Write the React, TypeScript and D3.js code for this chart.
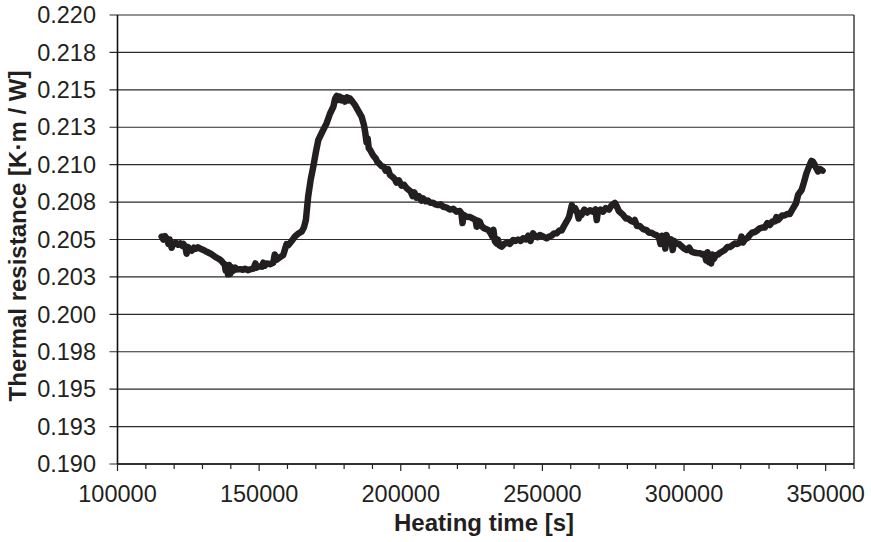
import React from "react";
import * as d3 from "d3";

const timeS: number[] = [
  115600, 116200, 116800, 117400, 118000, 118400, 119100, 119600, 120600, 121400,
  122100, 122800, 123300, 124000, 124400, 124800, 125400, 126200, 127000, 127600,
  128400, 129100, 130300, 131500, 132900, 134400, 135800, 136500, 137200, 137800,
  138200, 138600, 139000, 139400, 139800, 140300, 140800, 141500, 142000, 143200,
  144200, 145000, 146000, 146800, 148000, 148700, 149100, 150300, 151000, 151500,
  152000, 152600, 153800, 155000, 155500, 156200, 157300, 158500, 159200, 159700,
  160300, 161500, 162600, 163800, 165000, 165800, 166500, 167300, 168200, 169100,
  170000, 170900, 172300, 173800, 175000, 176200, 176800, 177400, 177900, 178500,
  179100, 179700, 180300, 181000, 181600, 182000, 183000, 183800, 185000, 186200,
  187000, 187500, 187900, 188300, 188700, 189200, 190300, 191200, 191700, 192500,
  193200, 194000, 194700, 195500, 196200, 197300, 198000, 198500, 199300, 200300,
  201200, 202100, 203500, 204200, 204800, 205500, 206400, 207300, 207900, 208800,
  209600, 210500, 211400, 212300, 213200, 214000, 215000, 216000, 217300, 218500,
  219700, 220800, 221400, 221800, 222200, 223200, 224500, 225500, 226400, 226800,
  227200, 227900, 228500, 229400, 230900, 231800, 232300, 232700, 233200, 233800,
  234300, 234800, 235600, 236500, 237600, 238500, 239700, 240500, 241400, 242300,
  243200, 244200, 245000, 245800, 246700, 247500, 248300, 249100, 250300, 251500,
  252400, 253200, 254100, 255000, 256000, 256800, 257600, 258500, 259400, 259900,
  260400, 260900, 261500, 262300, 262800, 263300, 263800, 264800, 265800, 266800,
  267900, 268700, 269200, 269600, 270500, 271400, 272400, 273500, 274500, 275600,
  276300, 277000, 278500, 279500, 280200, 281200, 282000, 282600, 283400, 284400,
  285500, 286800, 287600, 288500, 289400, 290300, 291200, 291700, 292200, 293000,
  293400, 293800, 294700, 295500, 296000, 296500, 297300, 298200, 299100, 300000,
  300900, 301800, 302600, 303200, 304400, 305600, 306500, 307300, 307800, 308300,
  308800, 309100, 309600, 310000, 310500, 311200, 312000, 312600, 313500, 314400,
  315300, 316200, 317000, 317900, 318800, 319700, 320300, 320800, 321500, 322400,
  323200, 324000, 325000, 325800, 326700, 327600, 328500, 329400, 330300, 331200,
  332000, 332600, 333200, 333800, 334600, 335500, 336400, 337300, 338200, 338800,
  339500, 340300, 341500, 342300, 343200, 344400, 345000, 345500, 346000, 346400,
  347300, 348100, 348900,
];

const resistance: number[] = [
  0.20519, 0.205, 0.20522, 0.20505, 0.2047, 0.205, 0.20445, 0.2047, 0.20478, 0.20465,
  0.20474, 0.20458, 0.2047, 0.20445, 0.20405, 0.2045, 0.2044, 0.20425, 0.20445, 0.20438,
  0.20448, 0.2044, 0.2043, 0.20418, 0.20405, 0.20385, 0.2037, 0.2036, 0.20345, 0.20335,
  0.20292, 0.20325, 0.20268, 0.2033, 0.2027, 0.20315, 0.2029, 0.20312, 0.203, 0.20302,
  0.20298, 0.20305, 0.20295, 0.203, 0.20305, 0.2034, 0.20312, 0.20322, 0.20318, 0.20345,
  0.20325, 0.2034, 0.20335, 0.20345, 0.204, 0.20365, 0.2038, 0.20396, 0.2044, 0.2047,
  0.20463, 0.2049, 0.20519, 0.2054, 0.20552, 0.2058, 0.2063, 0.20786, 0.209, 0.20986,
  0.2108, 0.21165, 0.2122, 0.21276, 0.2134, 0.21387, 0.2144, 0.2146, 0.21432, 0.21455,
  0.2143, 0.21445, 0.21421, 0.2145, 0.2143, 0.21443, 0.2142, 0.21399, 0.2136, 0.2132,
  0.21265, 0.2121, 0.2115, 0.21175, 0.2111, 0.21098, 0.2106, 0.2104, 0.2102, 0.21005,
  0.2099, 0.20985, 0.2096, 0.2097, 0.20931, 0.20915, 0.209, 0.2088, 0.20895, 0.2086,
  0.20865, 0.20842, 0.2082, 0.2079, 0.20815, 0.2078, 0.2079, 0.2076, 0.20775, 0.20755,
  0.2076, 0.20745, 0.20745, 0.20735, 0.2073, 0.20735, 0.20719, 0.20715, 0.207, 0.20705,
  0.20686, 0.2069, 0.20675, 0.2061, 0.20665, 0.20652, 0.2065, 0.2064, 0.2063, 0.20585,
  0.20625, 0.20619, 0.2059, 0.20575, 0.20563, 0.2054, 0.2052, 0.20565, 0.2049, 0.20474,
  0.205, 0.2046, 0.20452, 0.2047, 0.2048, 0.2047, 0.20497, 0.2049, 0.205, 0.2049,
  0.20508, 0.205, 0.20525, 0.2049, 0.20541, 0.2052, 0.20515, 0.2053, 0.2052, 0.20508,
  0.2052, 0.20525, 0.2054, 0.20541, 0.2056, 0.2056, 0.2059, 0.20619, 0.2065, 0.2069,
  0.2073, 0.20697, 0.2071, 0.2068, 0.2064, 0.20675, 0.20664, 0.207, 0.2068, 0.20695,
  0.20686, 0.207, 0.2063, 0.2069, 0.207, 0.20686, 0.2071, 0.207, 0.2073, 0.20745,
  0.2072, 0.2069, 0.20664, 0.2064, 0.2064, 0.20625, 0.20619, 0.2063, 0.2059, 0.2059,
  0.2057, 0.20563, 0.20545, 0.20545, 0.20535, 0.2053, 0.2051, 0.2047, 0.20525, 0.20497,
  0.2044, 0.2053, 0.20475, 0.205, 0.2043, 0.2049, 0.20474, 0.2047, 0.20455, 0.2044,
  0.2043, 0.20445, 0.2042, 0.20415, 0.2041, 0.20408, 0.204, 0.20405, 0.2036, 0.20415,
  0.2035, 0.20396, 0.2034, 0.204, 0.2037, 0.20395, 0.204, 0.2041, 0.2042, 0.2043,
  0.2045, 0.2045, 0.2046, 0.20474, 0.2047, 0.2048, 0.2052, 0.2048, 0.205, 0.2051,
  0.2053, 0.20545, 0.2055, 0.2056, 0.20575, 0.2058, 0.2058, 0.2061, 0.20597, 0.2062,
  0.2062, 0.2065, 0.2063, 0.20642, 0.2066, 0.2066, 0.2067, 0.2067, 0.207, 0.20719,
  0.2074, 0.208, 0.20831, 0.2088, 0.20942, 0.21, 0.21025, 0.2102, 0.21005, 0.20986,
  0.20955, 0.2097, 0.2096,
];

const yTickValues: number[] = [0.19, 0.1925, 0.195, 0.1975, 0.2, 0.2025, 0.205, 0.2075, 0.21, 0.2125, 0.215, 0.2175, 0.22];
const yTickLabels: string[] = ["0.190", "0.193", "0.195", "0.198", "0.200", "0.203", "0.205", "0.208", "0.210", "0.213", "0.215", "0.218", "0.220"];
const xMajorTicks: number[] = [100000, 150000, 200000, 250000, 300000, 350000];
const xTickLabels: string[] = ["100000", "150000", "200000", "250000", "300000", "350000"];

const xTitle = "Heating time [s]";
const yTitle = "Thermal resistance [K·m / W]";

const W = 871;
const H = 542;
const left = 117.5;
const right = 854;
const top = 15;
const bottom = 464;
const font = "'Liberation Sans', Arial, Helvetica, sans-serif";

export default function App() {
  const x = d3.scaleLinear().domain([100000, 360000]).range([left, right]);
  const y = d3.scaleLinear().domain([0.19, 0.22]).range([bottom, top]);
  const n = Math.min(timeS.length, resistance.length);
  const pts: [number, number][] = d3.range(n).map((i) => [timeS[i], resistance[i]]);
  const line = d3
    .line<[number, number]>()
    .x((d) => x(d[0]))
    .y((d) => y(d[1]))
    .curve(d3.curveLinear);
  const minorTicks = d3.range(100000, 360001, 10000);

  return (
    <svg
      width={W}
      height={H}
      viewBox={`0 0 ${W} ${H}`}
      style={{ position: "absolute", left: 0, top: 0, background: "#fff" }}
      fontFamily={font}
    >
      <rect x={0} y={0} width={W} height={H} fill="#fff" />
      {yTickValues.map((v, i) => (
        <line
          key={"g" + i}
          x1={left - 8}
          x2={right}
          y1={y(v)}
          y2={y(v)}
          stroke="#2a2a2a"
          strokeWidth={1.1}
        />
      ))}
      <line x1={right} x2={right} y1={top} y2={bottom} stroke="#222" strokeWidth={1.3} />
      <path
        d={line(pts) || ""}
        fill="none"
        stroke="#231f20"
        strokeWidth={6.5}
        strokeLinejoin="round"
        strokeLinecap="round"
      />
      <line x1={left} x2={left} y1={top} y2={bottom} stroke="#111" strokeWidth={1.6} />
      <line x1={left} x2={right} y1={bottom} y2={bottom} stroke="#111" strokeWidth={1.6} />
      {minorTicks.map((t, i) => {
        const major = xMajorTicks.includes(t);
        return (
          <line
            key={"t" + i}
            x1={x(t)}
            x2={x(t)}
            y1={bottom}
            y2={bottom + (major ? 7 : 5)}
            stroke="#222"
            strokeWidth={1.2}
          />
        );
      })}
      {yTickValues.map((v, i) => (
        <text
          key={"yl" + i}
          x={96}
          y={y(v)}
          dy="0.35em"
          textAnchor="end"
          fontSize={23.5}
          fill="#231f20"
        >
          {yTickLabels[i]}
        </text>
      ))}
      {xMajorTicks.map((t, i) => (
        <text
          key={"xl" + i}
          x={x(t)}
          y={502}
          textAnchor="middle"
          fontSize={23.5}
          fill="#231f20"
        >
          {xTickLabels[i]}
        </text>
      ))}
      <text x={484} y={531} textAnchor="middle" fontSize={24} fontWeight="bold" fill="#231f20">
        {xTitle}
      </text>
      <text
        transform={`translate(26,236) rotate(-90)`}
        textAnchor="middle"
        fontSize={24}
        fontWeight="bold"
        fill="#231f20"
      >
        {yTitle}
      </text>
    </svg>
  );
}
